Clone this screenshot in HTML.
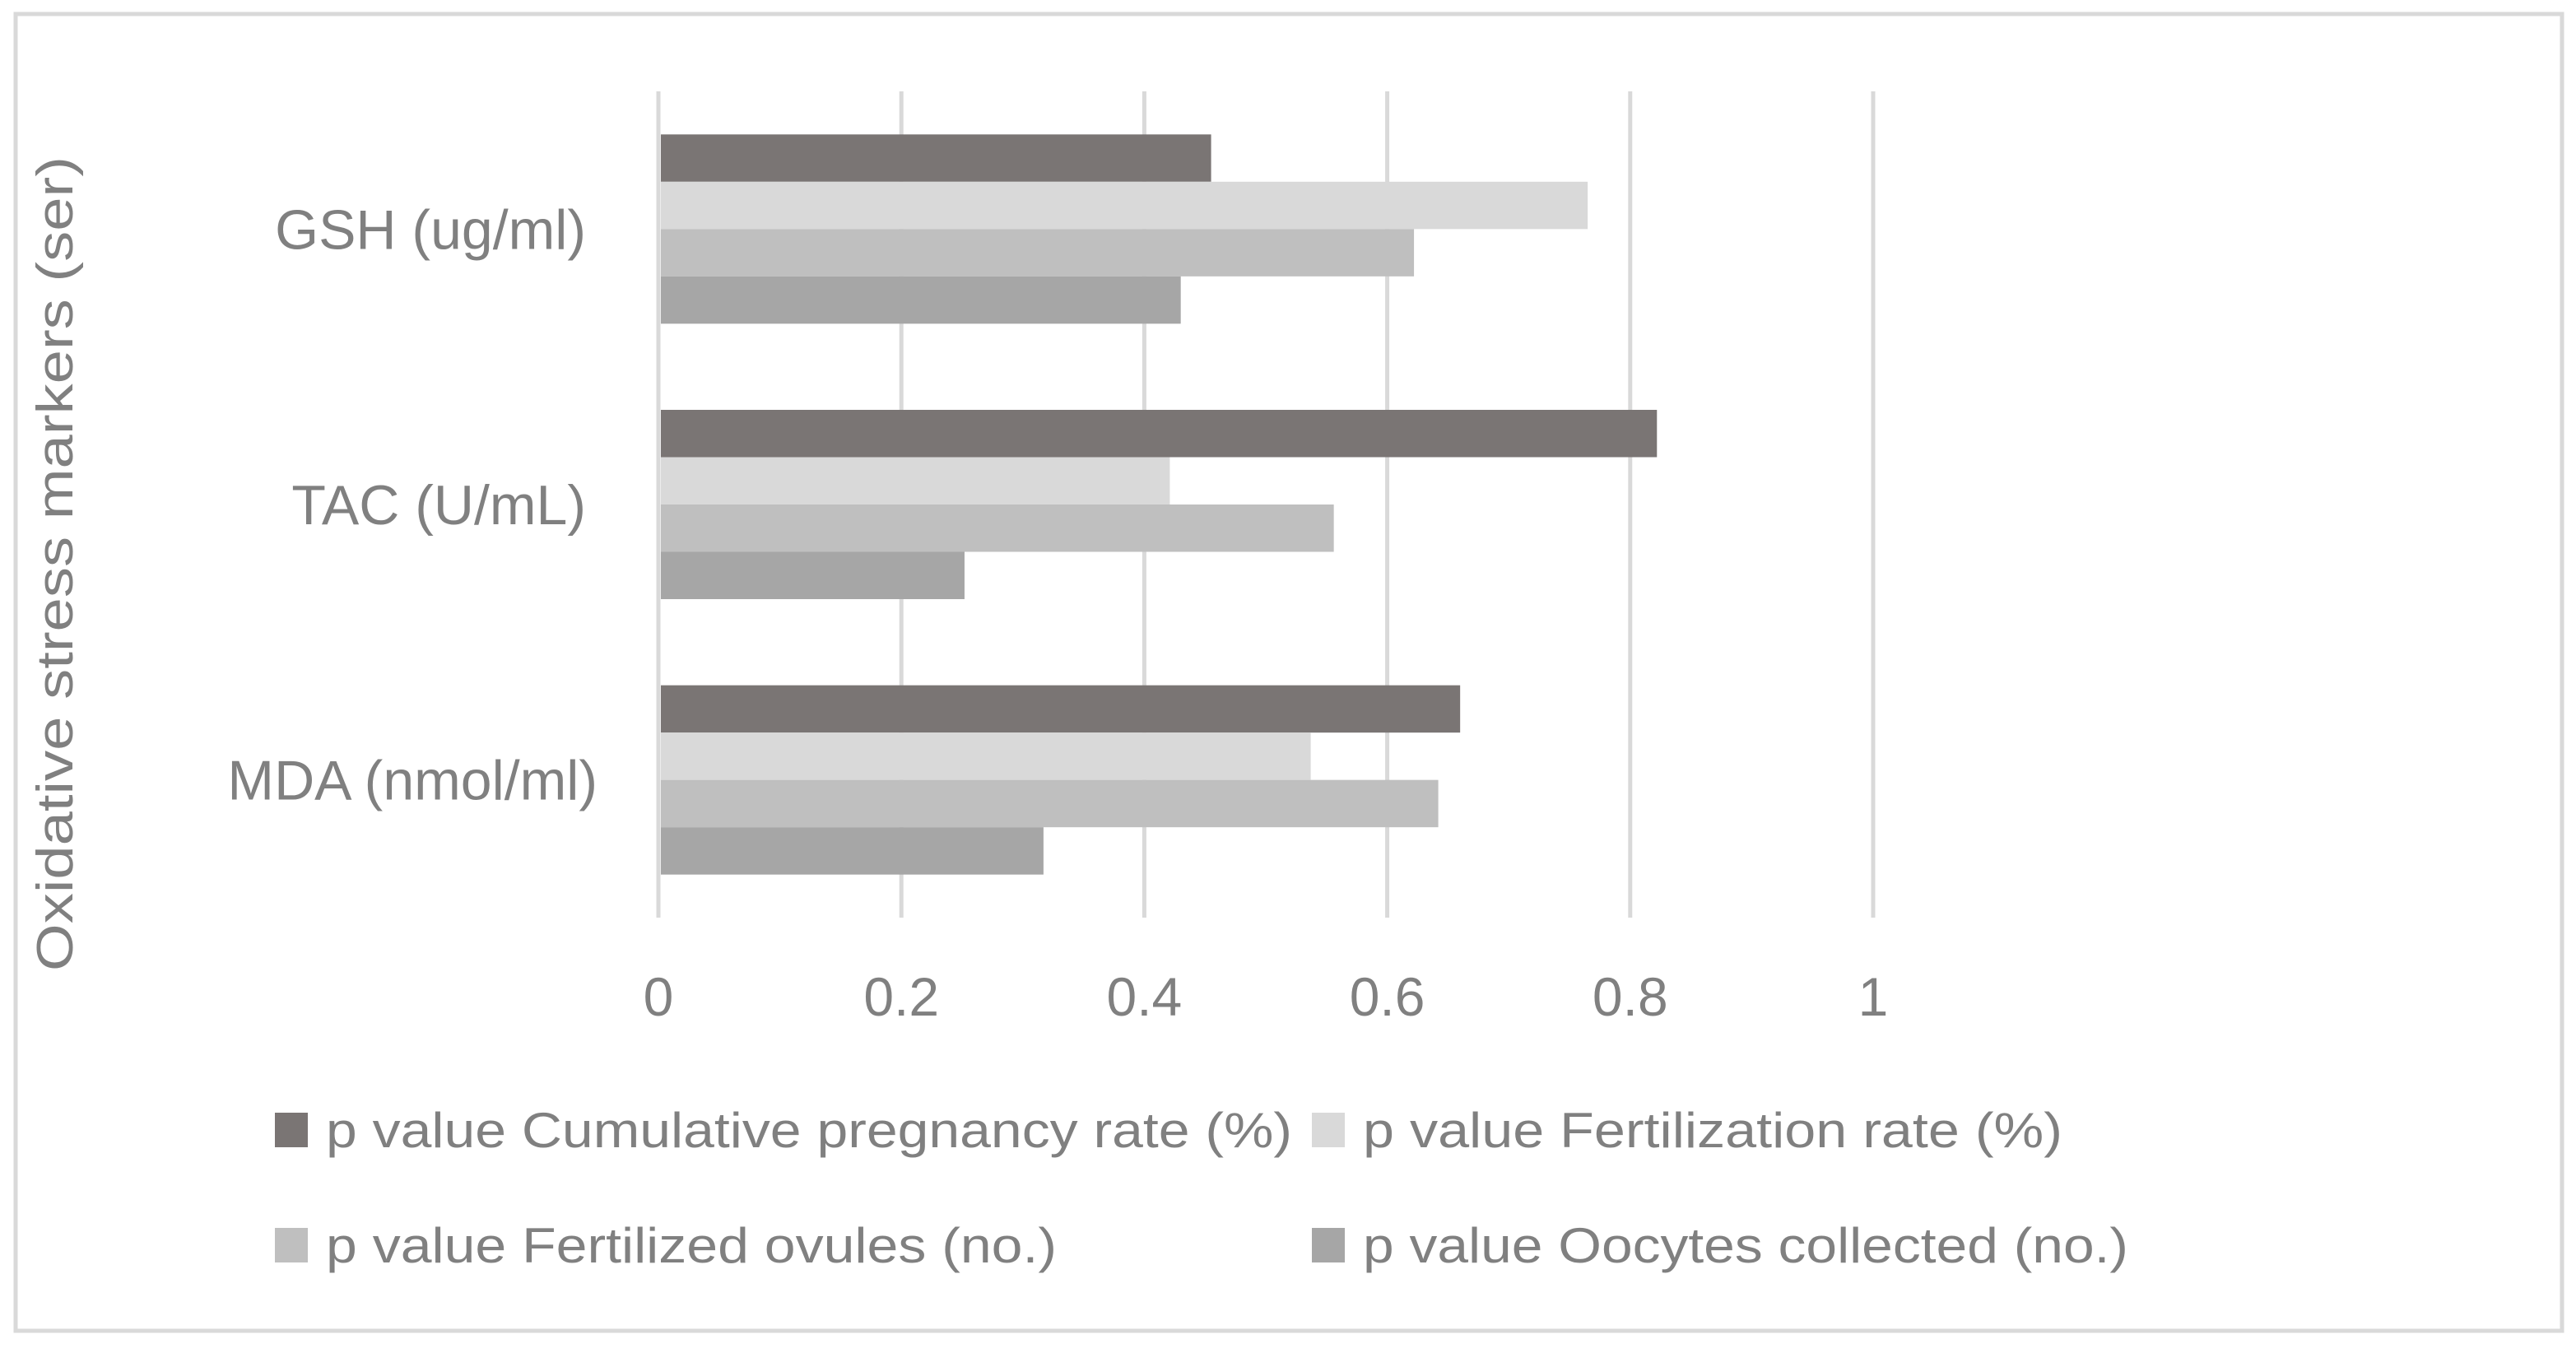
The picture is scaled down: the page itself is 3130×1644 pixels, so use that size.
<!DOCTYPE html>
<html><head><meta charset="utf-8"><style>
html,body{margin:0;padding:0;background:#fff;}
svg{display:block;}
text{font-family:"Liberation Sans",sans-serif;fill:#808080;}
</style></head><body>
<svg id="chart" width="3130" height="1644" viewBox="0 0 3130 1644">
<rect x="19" y="17" width="3094" height="1600" fill="#fff" stroke="#d9d9d9" stroke-width="5"/>
<g id="grid"></g><g id="bars"></g><g id="labels"></g>
<text transform="translate(88,685) rotate(-90)" text-anchor="middle" font-size="62" textLength="990" lengthAdjust="spacingAndGlyphs">Oxidative stress markers (ser)</text>
<g id="legend"></g>
</svg>
<script>
const categories = ["GSH (ug/ml)", "TAC (U/mL)", "MDA (nmol/ml)"];
const seriesNames = ["p value Cumulative pregnancy rate (%)", "p value Fertilization rate (%)", "p value Fertilized ovules (no.)", "p value Oocytes collected (no.)"];
const cumulativePregnancy = [0.455, 0.822, 0.660];
const fertilizationRate = [0.765, 0.421, 0.537];
const fertilizedOvules = [0.622, 0.556, 0.642];
const oocytesCollected = [0.430, 0.252, 0.317];
const tickValues = [0, 0.2, 0.4, 0.6, 0.8, 1];
const tickLabels = ["0", "0.2", "0.4", "0.6", "0.8", "1"];

const NS = "http://www.w3.org/2000/svg";
const colors = ["#7a7574", "#d9d9d9", "#bfbfbf", "#a6a6a6"];
const series = [cumulativePregnancy, fertilizationRate, fertilizedOvules, oocytesCollected];
const x0 = 800, x1 = 2276, plotTop = 111, plotBottom = 1115;
const xScale = v => x0 + v * (x1 - x0);
const band = (plotBottom - plotTop) / categories.length;
const barH = 57.5;
function mk(tag, attrs, parent) {
  const el = document.createElementNS(NS, tag);
  for (const k in attrs) el.setAttribute(k, attrs[k]);
  parent.appendChild(el); return el;
}
const grid = document.getElementById("grid");
const bars = document.getElementById("bars");
const labels = document.getElementById("labels");
const legend = document.getElementById("legend");
tickValues.forEach((v, i) => {
  const l = mk("line", {x1: xScale(v), x2: xScale(v), y1: plotTop, y2: plotBottom, stroke: "#d9d9d9", "stroke-width": 5}, grid);
  
  
  const t = mk("text", {x: xScale(v), y: 1234, "text-anchor": "middle", "font-size": 66}, labels);
  t.textContent = tickLabels[i];
  
  
});
categories.forEach((c, ci) => {
  const gTop = plotTop + ci * band + (band - 4 * barH) / 2;
  series.forEach((s, si) => {
    const r = mk("rect", {x: x0 + 3, y: gTop + si * barH, width: xScale(s[ci]) - x0 - 3, height: barH, fill: colors[si]}, bars);
    
    
  });
  const t = mk("text", {x: ci === 2 ? 726 : 712, y: plotTop + ci * band + band / 2 + 24, "text-anchor": "end", "font-size": 68}, labels);
  t.textContent = c;
  
  
});
const legPos = [[334, 1352, 1174], [1594, 1352, 850], [334, 1492, 888], [1594, 1492, 930]];
seriesNames.forEach((n, i) => {
  const [lx, ly, lw] = legPos[i];
  const r = mk("rect", {x: lx, y: ly, width: 40, height: 42, fill: colors[i]}, legend);
  
  
  const t = mk("text", {x: lx + 62, y: ly + 42, "font-size": 60, textLength: lw, lengthAdjust: "spacingAndGlyphs"}, legend);
  t.textContent = n;
  
  
});
</script>
</body></html>
